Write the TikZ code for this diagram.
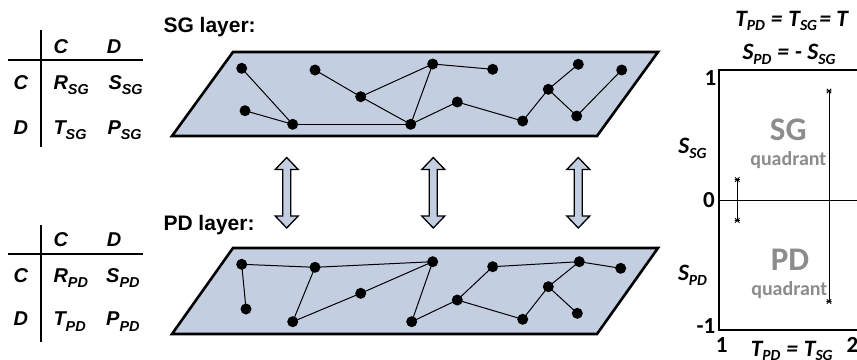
\documentclass[tikz,border=0pt]{standalone}
\usepackage{fontspec}
\usetikzlibrary{calc}
\newfontfamily\helfont{Liberation Sans}
\newfontfamily\calfont{Carlito}
\definecolor{layerfill}{RGB}{195,206,225}
\definecolor{quadgrey}{RGB}{140,140,140}
\newcommand{\hsub}[2]{#1\raisebox{-0.28em}{\scalebox{0.72}{#2}}}
\newcommand{\csub}[2]{#1\raisebox{-0.2em}{\scalebox{0.66}{#2}}}
\newcommand{\ceq}{\hspace{0.25em}=\hspace{0.25em}}
\begin{document}
\begin{tikzpicture}[x=1pt,y=-1pt,
  tabtxt/.style={font=\helfont\bfseries\itshape\fontsize{20}{20}\selectfont, inner sep=0pt, anchor=base west},
  laytxt/.style={font=\helfont\bfseries\fontsize{21}{21}\selectfont, inner sep=0pt, anchor=base west},
  caltxt/.style={font=\calfont\bfseries\itshape\fontsize{23.5}{23.5}\selectfont, inner sep=0pt, anchor=base},
  calnum/.style={font=\calfont\bfseries\fontsize{23}{23}\selectfont, inner sep=0pt, anchor=base},
  quadbig/.style={font=\calfont\bfseries\fontsize{33}{33}\selectfont, text=quadgrey, inner sep=0pt, anchor=base},
  quadsmall/.style={font=\calfont\bfseries\fontsize{20}{20}\selectfont, text=quadgrey, inner sep=0pt, anchor=base},
  layer/.style={draw=black, line width=2.6pt, fill=layerfill, line join=miter},
  dot/.style={circle, fill=black, inner sep=0pt, minimum size=11pt},
  edge/.style={line width=1pt},
  updown/.style={draw=black, line width=1.3pt, fill=layerfill, line join=miter},
  mk/.style={line width=0.9pt}
]
\useasboundingbox (0,0) rectangle (857,359);
\clip (0,0) rectangle (857,359);

% ---------- payoff tables ----------
\draw[line width=1.8pt] (40.7,30) -- (40.7,147);
\draw[line width=1.8pt] (8.3,60) -- (143.3,60);
\node[tabtxt] (t1hc) at (53.3,53.3) {C};
\node[tabtxt] (t1hd) at (106.7,53.3) {D};
\node[tabtxt] (t1rc) at (13.3,89.3) {C};
\node[tabtxt] (t1rd) at (13.3,134) {D};
\node[tabtxt] (t1r) at (53.3,89.3) {\hsub{R}{SG}};
\node[tabtxt] (t1s) at (108.3,89.3) {\hsub{S}{SG}};
\node[tabtxt] (t1t) at (53.3,134) {\hsub{T}{SG}};
\node[tabtxt] (t1p) at (107.3,134) {\hsub{P}{SG}};

\draw[line width=1.8pt] (40.7,225) -- (40.7,342);
\draw[line width=1.8pt] (8.3,254) -- (143.3,254);
\node[tabtxt] (t2hc) at (53.3,246.7) {C};
\node[tabtxt] (t2hd) at (106.7,246.7) {D};
\node[tabtxt] (t2rc) at (13.3,282.3) {C};
\node[tabtxt] (t2rd) at (13.3,325.7) {D};
\node[tabtxt] (t2r) at (53.3,282.3) {\hsub{R}{PD}};
\node[tabtxt] (t2s) at (106,282.3) {\hsub{S}{PD}};
\node[tabtxt] (t2t) at (53.3,325.7) {\hsub{T}{PD}};
\node[tabtxt] (t2p) at (106,325.7) {\hsub{P}{PD}};

% ---------- layers ----------
\node[laytxt] (sglab) at (163.3,32) {SG layer:};
\node[laytxt] (pdlab) at (163.3,230) {PD layer:};

\draw[layer] (172,136) -- (597,136) -- (658,52) -- (233,52) -- cycle;
\draw[layer] (172,334) -- (597,334) -- (658,248) -- (233,248) -- cycle;

% SG network
\foreach \n/\x/\y in {a1/241.7/68.3, a2/315/70, a3/360.7/96.7, a4/432.7/64, a5/492.7/69.3,
  a6/245/110.7, a7/292.7/124.3, a8/410.7/124.3, a9/457.3/102, a10/522.7/121,
  a12/548.3/89.3, a13/578.3/64.3, a14/576.7/116, a15/621.7/70}
  \coordinate (\n) at (\x,\y);
\foreach \u/\v in {a1/a7, a6/a7, a7/a8, a2/a3, a3/a8, a3/a4, a4/a8, a4/a5, a8/a9, a9/a10,
  a10/a12, a12/a13, a12/a14, a14/a15}
  \draw[edge] (\u) -- (\v);
\foreach \n in {a1,a2,a3,a4,a5,a6,a7,a8,a9,a10,a12,a13,a14,a15}
  \node[dot] (d\n) at (\n) {};

% PD network
\foreach \n/\x/\y in {b1/241.7/264.3, b2/315/267.3, b3/432.7/261.7, b4/360.7/293.3,
  b5/246/309, b6/292.7/321.7, b7/411.7/321.7, b8/457.3/300, b9/492.7/266.7,
  b10/522.7/319.3, b11/548.3/286.7, b12/579.3/261.7, b13/577.3/313.3, b14/620.7/268.3}
  \coordinate (\n) at (\x,\y);
\foreach \u/\v in {b1/b2, b1/b5, b2/b3, b2/b6, b6/b4, b4/b3, b3/b7, b7/b8, b8/b9,
  b8/b10, b9/b12, b12/b14, b12/b11, b11/b10, b11/b13}
  \draw[edge] (\u) -- (\v);
\foreach \n in {b1,b2,b3,b4,b5,b6,b7,b8,b9,b10,b11,b12,b13,b14}
  \node[dot] (d\n) at (\n) {};

% double arrows between layers
\foreach \cx in {286.7,433.3,578.3}
  \draw[updown] (\cx,157.5) -- (\cx+11.5,169.5) -- (\cx+4,169.5) -- (\cx+4,216) -- (\cx+11.5,216)
    -- (\cx,228) -- (\cx-11.5,216) -- (\cx-4,216) -- (\cx-4,169.5) -- (\cx-11.5,169.5) -- cycle;

% ---------- plot ----------
\node[caltxt] (eq1) at (791.7,26) {\csub{T}{PD}\ceq\csub{T}{SG}\hspace{0.1em}= \textit{T}};
\node[caltxt] (eq2) at (789,59.3) {\csub{S}{PD}\ceq- \csub{S}{SG}};

\draw[line width=2pt] (880,69.5) -- (718.5,69.5) -- (718.5,329.5) -- (880,329.5);
\draw[line width=1.5pt] (718.5,200.7) -- (880,200.7);

\node[calnum] (y1) at (710.5,85.5) {1};
\node[calnum] (y0) at (709,207.8) {0};
\node[calnum] (ym1) at (706,333.8) {-1};
\node[calnum] (x1) at (721.7,352) {1};
\node[calnum] (x2) at (852.5,352) {2};
\node[caltxt] (xlab) at (791.7,356) {\csub{T}{PD}\ceq\csub{T}{SG}};
\node[caltxt] (ysg) at (692.5,153.5) {\csub{S}{SG}};
\node[caltxt] (ypd) at (692.5,280.5) {\csub{S}{PD}};

\node[quadbig] (sgq) at (788.3,140.5) {SG};
\node[quadsmall] (sgq2) at (788.3,165.7) {quadrant};
\node[quadbig] (pdq) at (790,270) {PD};
\node[quadsmall] (pdq2) at (789.3,295) {quadrant};

\coordinate (m1) at (829,91);
\coordinate (m2) at (829,301.5);
\coordinate (m3) at (737.3,179.5);
\coordinate (m4) at (737.3,220.5);
\draw[line width=1pt] (m1) -- (m2);
\draw[line width=1pt] (m3) -- (m4);
\foreach \m in {m1,m2,m3,m4}
  \draw[mk] ($(\m)+(-2.2,-2.2)$) -- ($(\m)+(2.2,2.2)$) ($(\m)+(-2.2,2.2)$) -- ($(\m)+(2.2,-2.2)$)
    ($(\m)+(-2.6,0)$) -- ($(\m)+(2.6,0)$);
\end{tikzpicture}
\end{document}
